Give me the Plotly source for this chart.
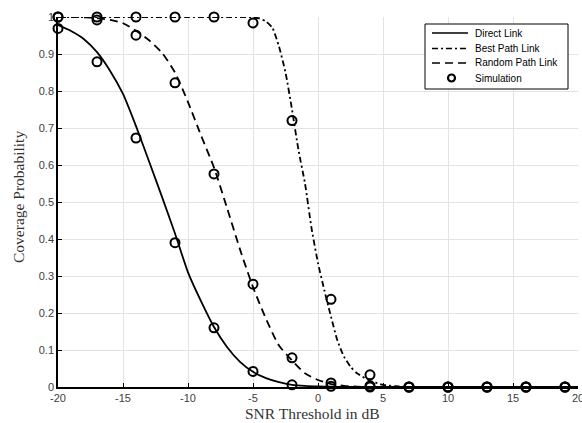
import plotly.graph_objects as go

# Curve samples
direct_x = [-20, -19, -18, -17, -16, -15, -14, -13, -12, -11, -10, -9, -8, -7, -6, -5, -4, -3, -2, -1, 0, 1, 2, 4, 7, 10, 13, 16, 20]
direct_y = [0.978, 0.962, 0.94, 0.905, 0.855, 0.792, 0.705, 0.61, 0.514, 0.415, 0.31, 0.232, 0.162, 0.108, 0.068, 0.041, 0.024, 0.013, 0.006, 0.003, 0.0015, 0.0008, 0.0003, 0.0, 0.0, 0.0, 0.0, 0.0, 0.0]

best_x = [-20, -15, -10, -7, -6, -5, -4.5, -4, -3.5, -3, -2.5, -2, -1.5, -1, -0.5, 0, 0.5, 1, 1.5, 2, 2.5, 3, 4, 5, 6, 7, 10, 15, 20]
best_y = [1.0, 1.0, 1.0, 1.0, 1.0, 0.999, 0.996, 0.988, 0.97, 0.92, 0.85, 0.75, 0.64, 0.55, 0.43, 0.335, 0.26, 0.19, 0.125, 0.082, 0.055, 0.037, 0.017, 0.006, 0.002, 0.0, 0.0, 0.0, 0.0]

random_x = [-20, -19, -18, -17, -16, -15, -14, -13, -12, -11, -10, -9, -8, -7, -6, -5, -4, -3, -2, -1, 0, 1, 2, 3, 4, 7, 10, 15, 20]
random_y = [1.0, 1.0, 0.999, 0.997, 0.992, 0.983, 0.963, 0.937, 0.903, 0.85, 0.77, 0.68, 0.593, 0.484, 0.372, 0.27, 0.184, 0.112, 0.072, 0.037, 0.019, 0.008, 0.003, 0.001, 0.0, 0.0, 0.0, 0.0, 0.0]

# Simulation points
sim_x = [-20, -17, -14, -11, -8, -5, -2, 1, 4, 7, 10, 13, 16, 19]
sim_direct = [0.969, 0.879, 0.673, 0.39, 0.16, 0.042, 0.006, 0.002, 0.0, 0.0, 0.0, 0.0, 0.0, 0.0]
sim_best = [1.0, 1.0, 1.0, 1.0, 1.0, 0.984, 0.72, 0.237, 0.033, 0.0, 0.0, 0.0, 0.0, 0.0]
sim_random = [1.0, 0.992, 0.951, 0.822, 0.576, 0.278, 0.079, 0.011, 0.003, 0.0, 0.0, 0.0, 0.0, 0.0]

x_ticks = [-20, -15, -10, -5, 0, 5, 10, 15, 20]
x_tick_labels = ["-20", "-15", "-10", "-5", "0", "5", "10", "15", "20"]
y_ticks = [0, 0.1, 0.2, 0.3, 0.4, 0.5, 0.6, 0.7, 0.8, 0.9, 1]
y_tick_labels = ["0", "0.1", "0.2", "0.3", "0.4", "0.5", "0.6", "0.7", "0.8", "0.9", "1"]

legend_names = ["Direct Link", "Best Path Link", "Random Path Link", "Simulation"]
x_title = "SNR Threshold in dB"
y_title = "Coverage Probability"

DASH_BEST = "6px,3px,2px,3px"
DASH_RANDOM = "8px,5px"

W, H = 582, 423
L, R, T, B = 58, 4, 17, 36
PW, PH = W - L - R, H - T - B


def px2paper_x(px):
    return (px - L) / PW


def px2paper_y(py):
    return (H - B - py) / PH


fig = go.Figure()
fig.add_trace(go.Scatter(x=direct_x, y=direct_y, mode="lines", name=legend_names[0],
                         line=dict(color="black", width=1.8, shape="spline", smoothing=0.6),
                         cliponaxis=False, showlegend=False))
fig.add_trace(go.Scatter(x=best_x, y=best_y, mode="lines", name=legend_names[1],
                         line=dict(color="black", width=1.8, dash=DASH_BEST, shape="spline", smoothing=0.6),
                         cliponaxis=False, showlegend=False))
fig.add_trace(go.Scatter(x=random_x, y=random_y, mode="lines", name=legend_names[2],
                         line=dict(color="black", width=1.8, dash=DASH_RANDOM, shape="spline", smoothing=0.6),
                         cliponaxis=False, showlegend=False))
marker = dict(symbol="circle-open", size=9, color="black", line=dict(width=2, color="black"))
fig.add_trace(go.Scatter(x=sim_x + sim_x + sim_x, y=sim_direct + sim_best + sim_random,
                         mode="markers", name=legend_names[3],
                         marker=marker, cliponaxis=False, showlegend=False))

# Manual legend box (MATLAB style)
shapes = []
annotations = []
bx0, bx1, by0, by1 = 425, 568, 24, 89
shapes.append(dict(type="rect", xref="paper", yref="paper",
                   x0=px2paper_x(bx0), x1=px2paper_x(bx1),
                   y0=px2paper_y(by1), y1=px2paper_y(by0),
                   line=dict(color="black", width=1), fillcolor="white", layer="above"))
entry_y = [33, 48.5, 63, 78]
dashes = ["solid", DASH_BEST, DASH_RANDOM]
for i in range(3):
    shapes.append(dict(type="line", xref="paper", yref="paper",
                       x0=px2paper_x(432), x1=px2paper_x(468),
                       y0=px2paper_y(entry_y[i]), y1=px2paper_y(entry_y[i]),
                       line=dict(color="black", width=1.6, dash=dashes[i]), layer="above"))
shapes.append(dict(type="circle", xref="paper", yref="paper",
                   xsizemode="pixel", ysizemode="pixel",
                   xanchor=px2paper_x(451.5), yanchor=px2paper_y(entry_y[3]),
                   x0=-3.5, x1=3.5, y0=-3.5, y1=3.5,
                   line=dict(color="black", width=2.2), layer="above"))
for i, name in enumerate(legend_names):
    annotations.append(dict(text=name, xref="paper", yref="paper",
                            x=px2paper_x(473), y=px2paper_y(entry_y[i]),
                            xanchor="left", yanchor="middle", showarrow=False,
                            font=dict(family="Liberation Sans, Arial", size=10, color="black")))

annotations.append(dict(text=x_title, xref="paper", yref="paper",
                        x=px2paper_x(312), y=px2paper_y(413),
                        xanchor="center", yanchor="middle", showarrow=False,
                        font=dict(family="Liberation Serif, Times New Roman", size=15.5, color="#333")))
annotations.append(dict(text=y_title, xref="paper", yref="paper",
                        x=px2paper_x(18), y=px2paper_y(197), textangle=-90,
                        xanchor="center", yanchor="middle", showarrow=False,
                        font=dict(family="Liberation Serif, Times New Roman", size=15.5, color="#333")))

fig.update_layout(
    width=W, height=H,
    margin=dict(l=L, r=R, t=T, b=B),
    paper_bgcolor="white", plot_bgcolor="white",
    showlegend=False,
    font=dict(family="Liberation Sans, Arial", size=11, color="#404040"),
    shapes=shapes, annotations=annotations,
)
fig.update_xaxes(range=[-20, 20], tickvals=x_ticks, ticktext=x_tick_labels,
                 showgrid=True, gridcolor="#e3e3e3", gridwidth=1,
                 showline=True, linecolor="black", linewidth=1.5,
                 ticks="inside", ticklen=4, tickcolor="black",
                 ticklabeloverflow="allow",
                 zeroline=False, automargin=False)
fig.update_yaxes(range=[0, 1], tickvals=y_ticks, ticktext=y_tick_labels,
                 showgrid=True, gridcolor="#e3e3e3", gridwidth=1,
                 showline=True, linecolor="black", linewidth=1.5,
                 ticks="inside", ticklen=4, tickcolor="black",
                 zeroline=False, automargin=False)

fig.write_html("out.html", config={"displayModeBar": False},
               post_script="document.body.style.margin='0';document.body.style.padding='0';")
